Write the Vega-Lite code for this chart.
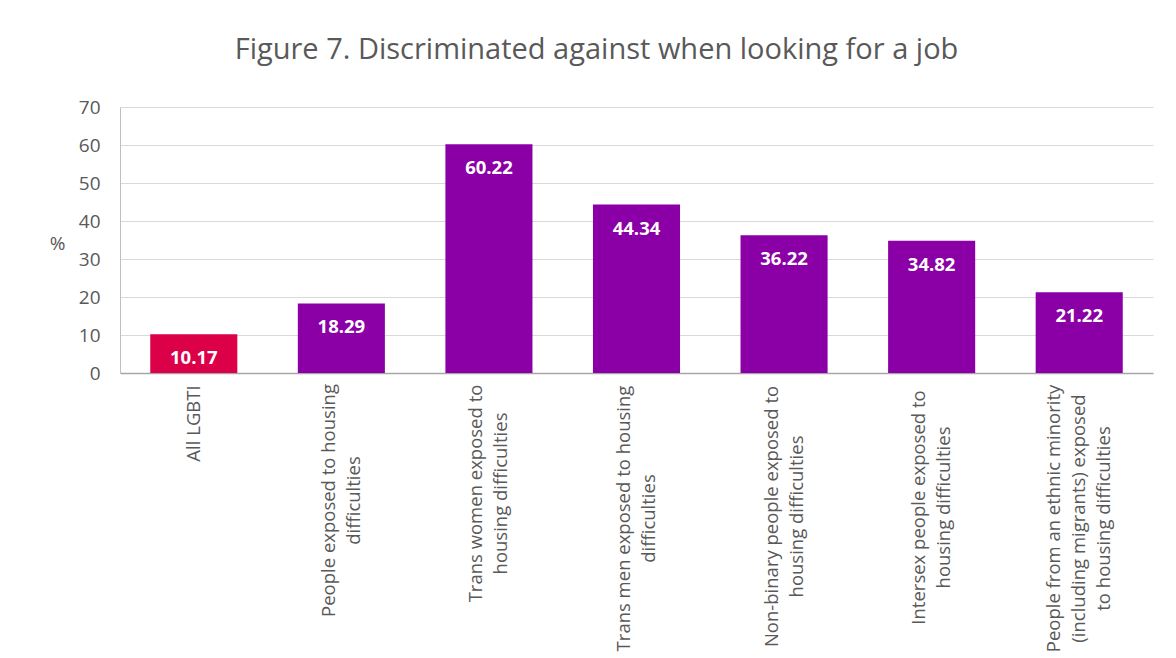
{
  "$schema": "https://vega.github.io/schema/vega-lite/v6.json",
  "width": 1033,
  "height": 266,
  "autosize": "none",
  "padding": {"left": 120, "top": 107, "right": 23, "bottom": 285},
  "background": "white",
  "title": {
    "text": "Figure 7. Discriminated against when looking for a job",
    "font": "Open Sans",
    "fontSize": 29,
    "fontWeight": "normal",
    "color": "#595959",
    "anchor": "middle",
    "baseline": "alphabetic",
    "dx": -40,
    "offset": 10
  },
  "data": {
    "values": [
      {"group": "All LGBTI", "value": 10.17, "kind": "all"},
      {"group": "People exposed to housing|difficulties", "value": 18.29, "kind": "sub"},
      {"group": "Trans women exposed to|housing difficulties", "value": 60.22, "kind": "sub"},
      {"group": "Trans men exposed to housing|difficulties", "value": 44.34, "kind": "sub"},
      {"group": "Non-binary people exposed to|housing difficulties", "value": 36.22, "kind": "sub"},
      {"group": "Intersex people exposed to|housing difficulties", "value": 34.82, "kind": "sub"},
      {"group": "People from an ethnic minority|(including migrants) exposed|to housing difficulties", "value": 21.22, "kind": "sub"}
    ]
  },
  "encoding": {
    "x": {
      "field": "group",
      "type": "nominal",
      "sort": null,
      "scale": {"paddingInner": 0.41, "paddingOuter": 0.205},
      "axis": {
        "title": null,
        "labelAngle": -90,
        "labelAlign": "center",
        "labelBaseline": "middle",
        "labelPadding": {
          "condition": [
            {"test": "indexof(datum.value, 'All LGBTI') === 0", "value": 50},
            {"test": "indexof(datum.value, 'People exposed') === 0", "value": 127},
            {"test": "indexof(datum.value, 'Trans women') === 0", "value": 120},
            {"test": "indexof(datum.value, 'Trans men') === 0", "value": 145},
            {"test": "indexof(datum.value, 'Non-binary') === 0", "value": 143},
            {"test": "indexof(datum.value, 'Intersex') === 0", "value": 134}
          ],
          "value": 145
        },
        "labelOffset": {
          "condition": [
            {"test": "length(split(datum.value, '|')) === 3", "value": -25},
            {"test": "length(split(datum.value, '|')) === 2", "value": -12.5}
          ],
          "value": 0
        },
        "labelLimit": 0,
        "labelFont": "Open Sans",
        "labelFontSize": 18.5,
        "labelColor": "#595959",
        "labelLineHeight": 25,
        "labelExpr": "split(datum.label, '|')",
        "ticks": false,
        "domainColor": "#a6a6a6",
        "domainWidth": 1.5
      }
    },
    "y": {
      "field": "value",
      "type": "quantitative",
      "scale": {"domain": [0, 70], "nice": false},
      "axis": {
        "values": [0, 10, 20, 30, 40, 50, 60, 70],
        "title": "%",
        "titleAngle": 0,
        "titleAlign": "center",
        "titleBaseline": "middle",
        "titleX": -63,
        "titleY": 136,
        "titleFont": "Open Sans",
        "titleFontSize": 19,
        "titleFontWeight": "normal",
        "titleColor": "#595959",
        "labelFont": "Open Sans",
        "labelFontSize": 19,
        "labelColor": "#595959",
        "labelPadding": 20,
        "ticks": false,
        "domainColor": "#bfbfbf",
        "gridColor": "#d9d9d9",
        "gridWidth": 1
      }
    }
  },
  "layer": [
    {
      "mark": {"type": "bar"},
      "encoding": {
        "color": {
          "field": "kind",
          "type": "nominal",
          "scale": {"domain": ["all", "sub"], "range": ["#DC0048", "#8B00A6"]},
          "legend": null
        }
      }
    },
    {
      "mark": {
        "type": "text",
        "color": "white",
        "font": "Open Sans",
        "fontSize": 18.5,
        "fontWeight": "bold",
        "baseline": "middle",
        "dy": 24
      },
      "encoding": {
        "text": {"field": "value", "type": "quantitative", "format": ".2f"}
      }
    }
  ],
  "config": {"view": {"stroke": null}}
}
